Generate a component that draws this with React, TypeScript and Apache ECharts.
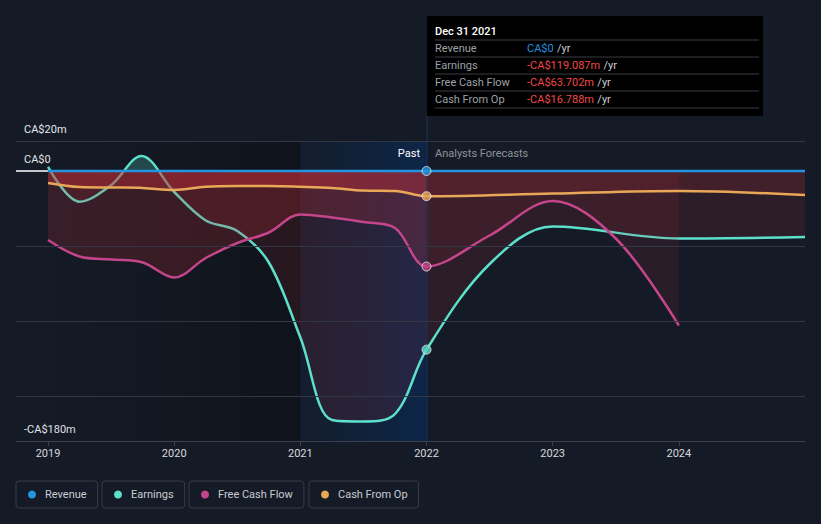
import React, { useEffect, useRef } from "react";
import * as echarts from "echarts";

// ---------- data ----------
const yearTicks = [2019, 2020, 2021, 2022, 2023, 2024];
const yLabelValues = [20, 0, -180];
const gridValues = [20, -50, -100, -150];

const seriesNames = ["Revenue", "Earnings", "Free Cash Flow", "Cash From Op"];
const seriesColors = ["#2394df", "#5ce0cb", "#c4458b", "#e8a857"];

const revenueX = [2019, 2020, 2021, 2022, 2023, 2024, 2025];
const revenueY = [0, 0, 0, 0, 0, 0, 0];

const earningsX = [2019.0, 2019.25, 2019.5, 2019.74, 2020.0, 2020.25, 2020.5, 2020.75, 2021.0, 2021.25, 2021.5, 2021.75, 2022.0, 2022.5, 2023.0, 2024.0, 2025.0];
const earningsY = [2.7, -20.5, -9.5, 10, -14, -33, -40, -61, -111, -166, -167, -162, -119.087, -62, -37, -45, -44];

const fcfX = [2019.0, 2019.25, 2019.5, 2019.75, 2020.0, 2020.25, 2020.5, 2020.75, 2021.0, 2021.25, 2021.5, 2021.75, 2022.0, 2022.5, 2023.0, 2023.5, 2024.0];
const fcfY = [-46, -57, -59, -61, -71, -58, -48, -41, -29, -31, -34, -38, -63.702, -43, -20, -45, -103];

const cfoX = [2019.0, 2019.25, 2019.5, 2019.75, 2020.0, 2020.25, 2020.5, 2020.75, 2021.0, 2021.25, 2021.5, 2021.75, 2022.0, 2023.0, 2024.0, 2025.0];
const cfoY = [-8, -10.7, -11, -11.3, -12.7, -10.5, -10, -10, -10.5, -11.3, -13, -13.3, -16.788, -15, -13.3, -16];

const tooltipDate = "Dec 31 2021";
const tooltipYear = 2022;
const pastLabel = "Past";
const forecastLabel = "Analysts Forecasts";

// ---------- helpers ----------
const zip = (xs: number[], ys: number[]) => xs.map((x, i) => [x, ys[i]]);
const valueAt = (xs: number[], ys: number[], x: number) => ys[xs.indexOf(x)];
const fmtMoney = (v: number) =>
  v === 0 ? "CA$0" : (v < 0 ? "-" : "") + "CA$" + Math.abs(v).toFixed(3) + "m";
const fmtAxis = (v: number) => (v === 0 ? "CA$0" : (v < 0 ? "-" : "") + "CA$" + Math.abs(v) + "m");

const BG = "#151b26";
const FONT = "Roboto";
const W = 821;
const H = 524;
const X_MIN = 2018.746;
const X_MAX = 2025.0;
const RED = "200,45,55";

const hGrad = (stops: [number, number][]) =>
  new echarts.graphic.LinearGradient(
    0,
    0,
    W,
    0,
    stops.map(([px, a]) => ({ offset: px / W, color: `rgba(${RED},${a})` })),
    true
  );

export default function App() {
  const ref = useRef<HTMLDivElement>(null);

  useEffect(() => {
    document.body.style.margin = "0";
    document.body.style.background = BG;
    if (!ref.current) return;
    const chart = echarts.init(ref.current, undefined, { renderer: "svg" });

    const series2022 = [
      valueAt(revenueX, revenueY, tooltipYear),
      valueAt(earningsX, earningsY, tooltipYear),
      valueAt(fcfX, fcfY, tooltipYear),
      valueAt(cfoX, cfoY, tooltipYear),
    ];

    const lineBase = (i: number) => ({
      name: seriesNames[i],
      type: "line",
      smooth: 0.35,
      showSymbol: false,
      silent: true,
      color: seriesColors[i],
      lineStyle: { color: seriesColors[i], width: 2.5 },
      itemStyle: { color: seriesColors[i] },
    });

    const rowY = [48.5, 65.5, 82.5, 99.5];
    const sepY = [40, 57, 74, 91, 108];

    const graphic: any[] = [
      { type: "rect", z: 20, shape: { x: 427, y: 16, width: 336, height: 100 }, style: { fill: "#000000" } },
      {
        type: "text",
        z: 21,
        x: 435,
        y: 31,
        style: { text: tooltipDate, fill: "#ffffff", font: `500 11px ${FONT}`, verticalAlign: "middle" },
      },
      ...sepY.map((y) => ({
        type: "line",
        z: 21,
        shape: { x1: 435, y1: y, x2: 759, y2: y },
        style: { stroke: "#3a3d42", lineWidth: 1 },
      })),
      ...seriesNames.map((n, i) => ({
        type: "text",
        z: 21,
        x: 435,
        y: rowY[i],
        style: { text: n, fill: "#9ca1a8", font: `11px ${FONT}`, verticalAlign: "middle" },
      })),
      ...series2022.map((v, i) => ({
        type: "text",
        z: 21,
        x: 527,
        y: rowY[i],
        style: {
          text: `{v|${fmtMoney(v)}} {u|/yr}`,
          verticalAlign: "middle",
          rich: {
            v: { fill: v === 0 ? "#2394df" : "#f04848", font: `11px ${FONT}` },
            u: { fill: "#c9ccd1", font: `11px ${FONT}` },
          },
        },
      })),
      {
        type: "line",
        z: 7,
        shape: { x1: 427, y1: 116, x2: 427, y2: 441 },
        style: { stroke: "#1c3456", lineWidth: 1 },
      },
      {
        type: "text",
        z: 9,
        x: 420,
        y: 153,
        style: { text: pastLabel, fill: "#ffffff", font: `11px ${FONT}`, align: "right", verticalAlign: "middle" },
      },
      {
        type: "text",
        z: 9,
        x: 435,
        y: 153,
        style: { text: forecastLabel, fill: "#8d929a", font: `11px ${FONT}`, verticalAlign: "middle" },
      },
    ];

    const legendLefts = [16, 102, 189, 309];

    const option: any = {
      animation: false,
      backgroundColor: BG,
      textStyle: { fontFamily: FONT },
      grid: { left: 16, right: 16, top: 141, bottom: 83, containLabel: false },
      legend: seriesNames.map((n, i) => ({
        data: [n],
        left: legendLefts[i],
        top: 481,
        icon: "circle",
        itemWidth: 8,
        itemHeight: 8,
        selectedMode: false,
        padding: [6, 11, 6, 12],
        borderColor: "#353b46",
        borderWidth: 1,
        borderRadius: 3,
        textStyle: { color: "#c8ccd2", fontSize: 11, fontFamily: FONT, lineHeight: 15, padding: [0, 0, 0, 4] },
      })),
      xAxis: {
        type: "value",
        min: X_MIN,
        max: X_MAX,
        splitLine: { show: false },
        axisLine: { show: true, onZero: false, lineStyle: { color: "#3b414c", width: 1 } },
        axisTick: { show: true, customValues: yearTicks, length: 5, lineStyle: { color: "#3b414c" } },
        axisLabel: {
          customValues: yearTicks,
          color: "#d6d9de",
          fontSize: 11,
          fontFamily: FONT,
          margin: 7,
          formatter: (v: number) => String(Math.round(v)),
        },
      },
      yAxis: {
        type: "value",
        min: -180,
        max: 20,
        splitLine: { show: false },
        axisLine: { show: false, onZero: false },
        axisTick: { show: false },
        axisLabel: {
          inside: true,
          customValues: yLabelValues,
          formatter: fmtAxis,
          verticalAlign: "bottom",
          padding: [0, 0, 6, 0],
          margin: 8,
          color: "#e6e8eb",
          fontSize: 11,
          fontFamily: FONT,
        },
      },
      series: [
        {
          type: "line",
          data: [],
          z: 1,
          silent: true,
          markArea: {
            silent: true,
            itemStyle: {
              color: new echarts.graphic.LinearGradient(0, 0, 1, 0, [
                { offset: 0, color: "rgba(0,0,0,0)" },
                { offset: 1, color: "rgba(0,0,0,0.28)" },
              ]),
            },
            data: [[{ xAxis: X_MIN, yAxis: 20 }, { xAxis: 2021, yAxis: -180 }]],
          },
          markLine: {
            silent: true,
            symbol: "none",
            label: { show: false },
            lineStyle: { color: "#323843", width: 1, type: "solid" },
            data: [
              ...gridValues.map((v) => ({ yAxis: v })),
              [
                { coord: [X_MIN, 0], lineStyle: { color: "#ffffff", width: 1.5, type: "solid" } },
                { coord: [yearTicks[0], 0] },
              ],
            ],
          },
        },
        {
          ...lineBase(1),
          z: 3,
          data: zip(earningsX, earningsY),
          areaStyle: {
            color: new echarts.graphic.LinearGradient(
              0,
              141,
              0,
              441,
              [
                { offset: 0, color: "rgba(92,224,204,0.35)" },
                { offset: 0.1, color: "rgba(92,224,204,0.35)" },
                { offset: 0.1, color: `rgba(${RED},0.18)` },
                { offset: 1, color: `rgba(${RED},0.18)` },
              ],
              true
            ),
          },
        },
        {
          ...lineBase(2),
          z: 4,
          data: zip(fcfX, fcfY),
          areaStyle: {
            color: hGrad([
              [48, 0.28],
              [300, 0.33],
              [427, 0.3],
              [428, 0.15],
              [805, 0.15],
            ]),
          },
        },
        {
          ...lineBase(3),
          z: 5,
          data: zip(cfoX, cfoY),
          areaStyle: {
            color: hGrad([
              [48, 0.55],
              [300, 0.62],
              [427, 0.5],
              [428, 0.22],
              [805, 0.2],
            ]),
          },
        },
        {
          ...lineBase(0),
          z: 6,
          data: zip(revenueX, revenueY),
        },
        {
          type: "line",
          data: [],
          z: 7,
          silent: true,
          markArea: {
            silent: true,
            itemStyle: {
              color: new echarts.graphic.LinearGradient(0, 0, 1, 0, [
                { offset: 0, color: "rgba(0,50,120,0.08)" },
                { offset: 1, color: "rgba(0,55,130,0.38)" },
              ]),
            },
            data: [[{ xAxis: 2021, yAxis: 20 }, { xAxis: tooltipYear, yAxis: -180 }]],
          },
        },
        {
          type: "scatter",
          z: 8,
          silent: true,
          symbolSize: 9,
          data: series2022.map((v, i) => ({
            value: [tooltipYear, v],
            itemStyle: { color: seriesColors[i], borderColor: "#e8eaee", borderWidth: 1 },
          })),
        },
      ],
      graphic,
    };

    chart.setOption(option);
    return () => chart.dispose();
  }, []);

  return <div ref={ref} style={{ width: W, height: H, background: BG }} />;
}
